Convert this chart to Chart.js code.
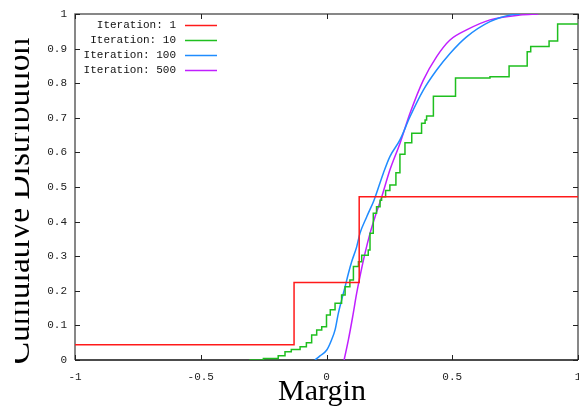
<!DOCTYPE html>
<html lang="en">
<head>
  <meta charset="UTF-8">
  <title>Cumulative Distribution of Margin</title>
  <script src="https://cdn.jsdelivr.net/npm/chart.js"></script>
  <style>
    body { margin: 0; background: #fff; }
    canvas { display: block; }
  </style>
</head>
<body>
  <canvas id="cdfChart" width="579" height="406"></canvas>

  <script>
    // series labels
    const seriesLabels = ['Iteration: 1', 'Iteration: 10', 'Iteration: 100', 'Iteration: 500'];
    const seriesColors = ['#ff1a1a', '#1fbf1f', '#1f8cff', '#c01fff'];

    // Iteration 1 (step)
    const it1X = [-1, -0.129, 0.130, 1];
    const it1Y = [0.044, 0.224, 0.472, 0.472];

    // Iteration 10 (step)
    const it10X = [-0.307, -0.251, -0.192, -0.165, -0.140, -0.105, -0.080, -0.059, -0.039, -0.019,
                   0.000, 0.015, 0.034, 0.060, 0.074, 0.093, 0.107, 0.127, 0.140, 0.166,
                   0.173, 0.186, 0.199, 0.213, 0.219, 0.235, 0.252, 0.276, 0.292, 0.312,
                   0.339, 0.378, 0.392, 0.398, 0.425, 0.513, 0.650, 0.726, 0.798, 0.812,
                   0.885, 0.919, 1.0];
    const it10Y = [0, 0.004, 0.012, 0.024, 0.030, 0.038, 0.050, 0.072, 0.087, 0.096,
                   0.130, 0.145, 0.164, 0.188, 0.212, 0.231, 0.270, 0.284, 0.303, 0.318,
                   0.366, 0.424, 0.443, 0.462, 0.472, 0.490, 0.506, 0.541, 0.595, 0.628,
                   0.655, 0.684, 0.694, 0.705, 0.762, 0.815, 0.819, 0.850, 0.891, 0.906,
                   0.922, 0.971, 0.971];

    // Iteration 100
    const it100X = [-0.046, -0.026, 0.001, 0.020, 0.034, 0.047, 0.060, 0.074, 0.087, 0.100,
                    0.120, 0.133, 0.160, 0.189, 0.226, 0.252, 0.292, 0.332, 0.385, 0.438,
                    0.491, 0.557, 0.650, 0.730, 0.769];
    const it100Y = [0, 0.012, 0.029, 0.058, 0.087, 0.135, 0.173, 0.212, 0.250, 0.284,
                    0.327, 0.366, 0.414, 0.462, 0.540, 0.588, 0.636, 0.703, 0.780, 0.838,
                    0.886, 0.934, 0.978, 0.997, 1.0];

    // Iteration 500
    const it500X = [0.070, 0.087, 0.104, 0.120, 0.133, 0.153, 0.173, 0.193, 0.219, 0.252,
                    0.292, 0.332, 0.385, 0.438, 0.491, 0.557, 0.650, 0.769, 0.842];
    const it500Y = [0, 0.058, 0.125, 0.193, 0.241, 0.308, 0.366, 0.414, 0.470, 0.549,
                    0.626, 0.713, 0.809, 0.877, 0.925, 0.954, 0.983, 0.997, 1.0];

    const xTicks = [-1, -0.5, 0, 0.5, 1];
    const yTicks = [0, 0.1, 0.2, 0.3, 0.4, 0.5, 0.6, 0.7, 0.8, 0.9, 1];

    function pts(xs, ys) {
      return xs.map((x, i) => ({ x: x, y: ys[i] }));
    }

    const tickFont = { family: '"Liberation Mono", monospace', size: 11 };

    // frame, inward ticks, legend and axis titles, gnuplot style
    const gnuplotLook = {
      id: 'gnuplotLook',
      beforeDatasetsDraw(chart) {
        const { ctx, chartArea: a, scales } = chart;
        ctx.save();
        ctx.lineWidth = 1.5;
        ctx.strokeStyle = '#606060';
        ctx.beginPath();
        ctx.moveTo(a.left, a.bottom);
        ctx.lineTo(a.left, a.top);
        ctx.lineTo(a.right, a.top);
        ctx.lineTo(a.right, a.bottom);
        ctx.stroke();
        ctx.strokeStyle = '#111';
        ctx.beginPath();
        ctx.moveTo(a.left, a.bottom);
        ctx.lineTo(a.right, a.bottom);
        ctx.stroke();

        ctx.lineWidth = 1;
        ctx.strokeStyle = '#222';
        ctx.beginPath();
        xTicks.forEach(v => {
          const px = Math.round(scales.x.getPixelForValue(v)) + 0.5;
          ctx.moveTo(px, a.bottom); ctx.lineTo(px, a.bottom - 5);
          ctx.moveTo(px, a.top); ctx.lineTo(px, a.top + 5);
        });
        yTicks.forEach(v => {
          const py = Math.round(scales.y.getPixelForValue(v)) + 0.5;
          ctx.moveTo(a.left, py); ctx.lineTo(a.left + 5, py);
          ctx.moveTo(a.right, py); ctx.lineTo(a.right - 5, py);
        });
        ctx.stroke();
        ctx.restore();
      },
      afterDraw(chart) {
        const { ctx } = chart;
        ctx.save();
        // legend
        ctx.font = '11px "Liberation Mono", monospace';
        ctx.textAlign = 'right';
        ctx.textBaseline = 'middle';
        chart.data.datasets.forEach((ds, i) => {
          const y = 25 + 15 * i;
          ctx.fillStyle = '#111';
          ctx.fillText(ds.label, 176, y);
          ctx.strokeStyle = ds.borderColor;
          ctx.lineWidth = 1.5;
          ctx.beginPath();
          ctx.moveTo(185, y + 0.5);
          ctx.lineTo(217, y + 0.5);
          ctx.stroke();
        });

        // x title
        ctx.fillStyle = '#000';
        ctx.font = '30px "Liberation Serif", serif';
        ctx.textAlign = 'center';
        ctx.textBaseline = 'alphabetic';
        ctx.fillText('Margin', 322, 400);

        // y title, cut on the left like the original
        const yTitle = 'Cumulative Distribution';
        ctx.font = '30px "Liberation Serif", serif';
        const size = 30 * 327 / ctx.measureText(yTitle).width;
        ctx.font = size.toFixed(1) + 'px "Liberation Serif", serif';
        ctx.beginPath();
        ctx.rect(15, 0, 60, 406);
        ctx.clip();
        ctx.translate(28.5, 201);
        ctx.rotate(-Math.PI / 2);
        ctx.fillText(yTitle, 0, 0);
        ctx.restore();
      }
    };

    const ctx = document.getElementById('cdfChart').getContext('2d');

    const cdfChart = new Chart(ctx, {
      type: 'line',
      data: {
        datasets: [
          { label: seriesLabels[0], data: pts(it1X, it1Y), borderColor: seriesColors[0], stepped: true },
          { label: seriesLabels[1], data: pts(it10X, it10Y), borderColor: seriesColors[1], stepped: true },
          { label: seriesLabels[2], data: pts(it100X, it100Y), borderColor: seriesColors[2], cubicInterpolationMode: 'monotone' },
          { label: seriesLabels[3], data: pts(it500X, it500Y), borderColor: seriesColors[3], cubicInterpolationMode: 'monotone' }
        ].map(ds => Object.assign(ds, {
          borderWidth: 1.5,
          pointRadius: 0,
          fill: false
        }))
      },
      options: {
        responsive: false,
        animation: false,
        layout: { padding: { top: 14, right: 1, left: 0, bottom: 0 } },
        plugins: {
          legend: { display: false },
          tooltip: { enabled: false }
        },
        scales: {
          x: {
            type: 'linear',
            min: -1,
            max: 1,
            grid: { display: false, drawTicks: false },
            border: { display: false },
            afterBuildTicks: s => { s.ticks = xTicks.map(v => ({ value: v })); },
            ticks: {
              font: tickFont,
              color: '#222',
              padding: 10,
              maxRotation: 0,
              callback: v => String(+Number(v).toFixed(1))
            },
            afterFit: s => { s.height = 46; s.paddingLeft = 0; s.paddingRight = 0; }
          },
          y: {
            type: 'linear',
            min: 0,
            max: 1,
            grid: { display: false, drawTicks: false },
            border: { display: false },
            afterBuildTicks: s => { s.ticks = yTicks.map(v => ({ value: v })); },
            ticks: {
              font: tickFont,
              color: '#222',
              padding: 8,
              callback: v => String(+Number(v).toFixed(1))
            },
            afterFit: s => { s.width = 75; s.paddingTop = 0; s.paddingBottom = 0; }
          }
        }
      },
      plugins: [gnuplotLook]
    });
  </script>
</body>
</html>
